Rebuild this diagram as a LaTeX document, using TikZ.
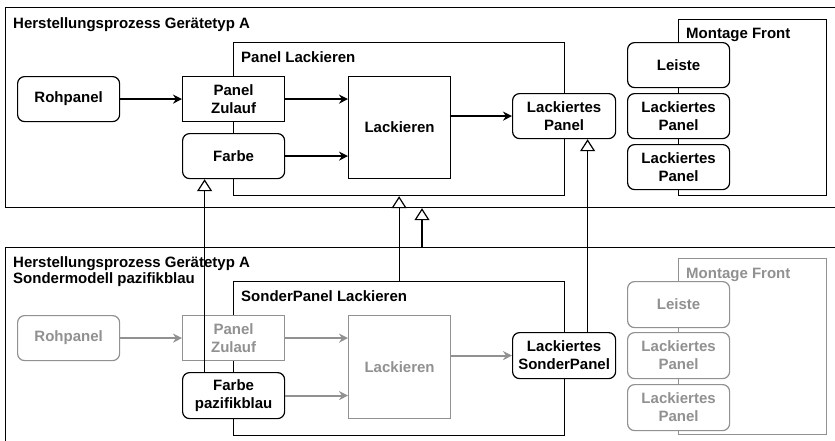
\documentclass[tikz,border=0pt]{standalone}
\usepackage{fontspec}
\setmainfont{Liberation Sans}
\usetikzlibrary{arrows.meta}
\definecolor{dim}{RGB}{145,145,145}
\begin{document}
\begin{tikzpicture}[x=1pt,y=-1pt,
  font=\fontsize{15}{18}\selectfont\bfseries,
  frame/.style={draw=black, line width=1.2pt, fill=white, anchor=north west, inner sep=0pt},
  cbox/.style={draw, line width=1.2pt, fill=white, anchor=north west, align=center,
               inner sep=1pt, minimum width=102pt, minimum height=45pt},
  rbox/.style={cbox, rounded corners=7pt},
  faded/.style={draw=dim, text=dim},
  flow/.style={line width=2pt, -{Stealth[length=9pt,width=9pt,inset=3pt]}},
  inherit/.style={line width=1.2pt, -{Triangle[length=12pt,width=15pt,fill=white]}},
  title/.style={anchor=base west, inner sep=0pt, align=left}
]
\clip (0,0) rectangle (835,440);

% ---------- upper process ----------
\node[frame, minimum width=840pt, minimum height=200pt] (topframe) at (5,7) {};
\node[title] (toptitle) at (13,28) {Herstellungsprozess Gerätetyp A};

\node[frame, minimum width=331pt, minimum height=153pt] (plk) at (233,42) {};
\node[title] (plktitle) at (241,62) {Panel Lackieren};

\node[frame, minimum width=148pt, minimum height=176pt] (mft) at (678,19) {};
\node[title] (mfttitle) at (686,38) {Montage Front};

\node[rbox] (roh) at (17,76) {Rohpanel};
\node[cbox] (zul) at (182,76) {Panel\\Zulauf};
\node[rbox] (farbe) at (182,133) {Farbe};
\node[cbox, minimum height=102pt] (lack) at (348,76) {Lackieren};
\node[rbox, minimum width=103pt] (lp) at (512,93) {Lackiertes\\Panel};
\node[rbox] (leiste) at (627,42) {Leiste};
\node[rbox] (lp1) at (627,93) {Lackiertes\\Panel};
\node[rbox] (lp2) at (627,144) {Lackiertes\\Panel};

\draw[flow] (roh.east) -- (zul.west);
\draw[flow] (zul.east) -- (zul.east -| lack.west);
\draw[flow] (farbe.east) -- (farbe.east -| lack.west);
\draw[flow] (lp.west -| lack.east) -- (lp.west);

% ---------- lower process (special model) ----------
\node[frame, minimum width=840pt, minimum height=213pt] (botframe) at (5,247) {};
\node[title] (bottitle) at (13,283) {Herstellungsprozess Gerätetyp A\\[-2pt]Sondermodell pazifikblau};

\node[frame, minimum width=331pt, minimum height=154pt] (splk) at (233,281) {};
\node[title] (splktitle) at (241,301) {SonderPanel Lackieren};

\node[frame, faded, minimum width=148pt, minimum height=176pt] (mfb) at (678,258) {};
\node[title, text=dim] (mfbtitle) at (686,278) {Montage Front};

\node[rbox, faded] (roh2) at (17,315) {Rohpanel};
\node[cbox, faded] (zul2) at (182,315) {Panel\\Zulauf};
\node[rbox, minimum height=46pt] (farbe2) at (182,372) {Farbe\\pazifikblau};
\node[cbox, faded, minimum height=103pt] (lack2) at (348,315) {Lackieren};
\node[rbox, minimum width=103pt, minimum height=46pt] (slp) at (512,332) {Lackiertes\\SonderPanel};
\node[rbox, faded, minimum height=46pt] (leiste2) at (627,281) {Leiste};
\node[rbox, faded, minimum height=46pt] (lp3) at (627,332) {Lackiertes\\Panel};
\node[rbox, faded, minimum height=46pt] (lp4) at (627,384) {Lackiertes\\Panel};

\draw[flow, draw=dim, fill=dim] (roh2.east) -- (zul2.west);
\draw[flow, draw=dim, fill=dim] (zul2.east) -- (zul2.east -| lack2.west);
\draw[flow, draw=dim, fill=dim] (farbe2.east) -- (farbe2.east -| lack2.west);
\draw[flow, draw=dim, fill=dim] (slp.west -| lack2.east) -- (slp.west);

% ---------- specialisation links ----------
\draw[inherit] ([xshift=-29pt]farbe2.north) -- ([xshift=-29pt]farbe.south);
\draw[inherit] (splk.north) -- (plk.south);
\draw[inherit] ([xshift=417pt]botframe.north west) -- ([xshift=417pt]topframe.south west);
\draw[inherit] ([xshift=23.5pt]slp.north) -- ([xshift=23.5pt]lp.south);
\end{tikzpicture}
\end{document}
